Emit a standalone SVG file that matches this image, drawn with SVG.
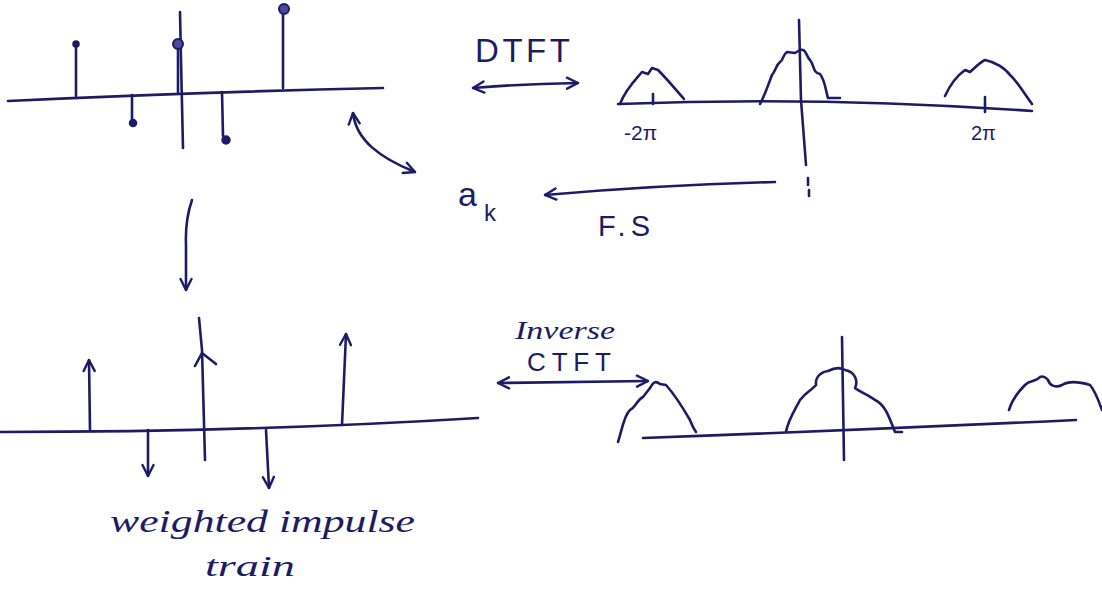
<svg xmlns="http://www.w3.org/2000/svg" width="1102" height="590" viewBox="0 0 1102 590">
<style>
.ink{fill:none;stroke:#1d1b66;stroke-width:2.6;stroke-linecap:round;stroke-linejoin:round}
.dot{fill:#1d1b66;stroke:#1d1b66;stroke-width:1.5}
.t{fill:#1d1b66;font-family:"Liberation Sans",Arial,sans-serif}
.h{fill:#1d1b66;font-family:"Liberation Serif","DejaVu Serif",serif;font-style:italic}
</style>
<defs>
<marker id="ah" viewBox="0 0 14 14" refX="13" refY="7" markerWidth="14" markerHeight="14" markerUnits="userSpaceOnUse" orient="auto-start-reverse">
<path d="M2,1.5 L13,7 L2,12.5" fill="none" stroke="#1d1b66" stroke-width="2.4" stroke-linecap="round" stroke-linejoin="round"/>
</marker>
</defs>
<rect width="1102" height="590" fill="#ffffff"/>

<g id="discrete-signal">
<path class="ink" d="M8,101 Q200,92 383,88"/>
<path class="ink" d="M180,12 L181,60 L183,148"/>
<path class="ink" d="M76,96 L76,46"/><circle class="dot" cx="76" cy="44" r="3"/>
<path class="ink" d="M178,92 L178,48"/><circle cx="178" cy="44" r="5" fill="#4a48a0" stroke="#1d1b66" stroke-width="2"/>
<path class="ink" d="M283,88 L283,14"/><circle cx="284" cy="9" r="5" fill="#4a48a0" stroke="#1d1b66" stroke-width="2"/>
<path class="ink" d="M132,95 L132,119"/><circle class="dot" cx="133" cy="123" r="3.5"/>
<path class="ink" d="M222,92 L223,136"/><circle class="dot" cx="226" cy="140" r="4"/>
</g>

<g id="dtft-spectrum">
<path class="ink" d="M618,104 Q820,96 1032,111"/>
<path class="ink" d="M799,20 L801,100 L806,165"/>
<path class="ink" d="M808,178 L808,185 M809,190 L809,196"/>
<path class="ink" d="M653,94 L653,104"/>
<path class="ink" d="M985,97 L985,112"/>
<path class="ink" d="M620,104 C625,90 635,80 642,72 L648,74 L652,68 L658,70 C668,80 676,90 684,99"/>
<path class="ink" d="M760,104 C765,95 768,85 772,75 C776,70 776,65 780,62 C784,60 782,55 787,52 L795,53 L800,50 C806,48 806,56 810,60 C815,66 812,72 820,74 C825,80 826,92 828,98 L840,98"/>
<path class="ink" d="M945,96 C950,85 958,75 965,70 L970,72 C975,68 980,62 985,60 C995,62 1005,68 1010,75 C1018,82 1025,95 1032,104"/>
<text class="t" x="624" y="140" font-size="21">-2π</text>
<text class="t" x="971" y="140" font-size="20">2π</text>
</g>

<g id="ak-label">
<text class="t" x="458" y="206" font-size="34">a</text>
<text class="t" x="484" y="221" font-size="24">k</text>
</g>

<g id="impulse-train">
<path class="ink" d="M0,432 Q250,432 478,418"/>
<path class="ink" d="M90,430 L89,360" marker-end="url(#ah)"/>
<path class="ink" d="M199,318 L202,350 L205,460"/>
<path class="ink" d="M195,366 L202,353 L216,364"/>
<path class="ink" d="M342,425 L346,334" marker-end="url(#ah)"/>
<path class="ink" d="M148,430 L148,476" marker-end="url(#ah)"/>
<path class="ink" d="M266,430 L269,488" marker-end="url(#ah)"/>
<text class="h" x="110" y="532" font-size="32" textLength="305" lengthAdjust="spacingAndGlyphs">weighted  impulse</text>
<text class="h" x="205" y="576" font-size="30" textLength="90" lengthAdjust="spacingAndGlyphs">train</text>
</g>

<g id="ctft-spectrum">
<path class="ink" d="M643,438 Q860,430 1076,420"/>
<path class="ink" d="M842,337 L844,460"/>
<path class="ink" d="M618,442 C622,430 624,415 630,410 C635,408 637,400 643,397 L650,388 C653,383 655,380 660,384 L666,385 C675,395 683,408 690,420 C692,425 693,428 696,432"/>
<path class="ink" d="M786,432 C788,420 795,410 800,400 C806,392 812,390 816,385 C815,378 820,372 828,371 C834,368 840,367 845,370 C856,372 858,382 855,388 C860,392 868,395 875,400 C886,405 890,420 895,432 L902,432"/>
<path class="ink" d="M1009,410 C1012,400 1020,390 1025,385 C1030,380 1036,382 1040,377 C1044,375 1046,378 1048,380 C1050,386 1056,388 1062,385 C1070,380 1080,382 1090,385 C1096,392 1100,405 1102,410"/>
</g>

<g id="connectors">
<path class="ink" d="M353,113 C356,140 380,158 415,172" marker-start="url(#ah)" marker-end="url(#ah)"/>
<path class="ink" d="M473,88 Q520,84 578,83" marker-start="url(#ah)" marker-end="url(#ah)"/>
<path class="ink" d="M775,182 Q660,185 545,195" marker-end="url(#ah)"/>
<path class="ink" d="M192,200 Q185,220 186,245 L186,290" marker-end="url(#ah)"/>
<path class="ink" d="M498,383 L648,381" marker-start="url(#ah)" marker-end="url(#ah)"/>
<text class="t" x="475" y="62" font-size="33" textLength="95" lengthAdjust="spacing">DTFT</text>
<text class="t" x="598" y="236" font-size="29" textLength="52" lengthAdjust="spacing">F.S</text>
<text class="h" x="515" y="339" font-size="25" textLength="100" lengthAdjust="spacingAndGlyphs">Inverse</text>
<text class="t" x="527" y="371" font-size="26" textLength="84" lengthAdjust="spacing">CTFT</text>
</g>
</svg>
